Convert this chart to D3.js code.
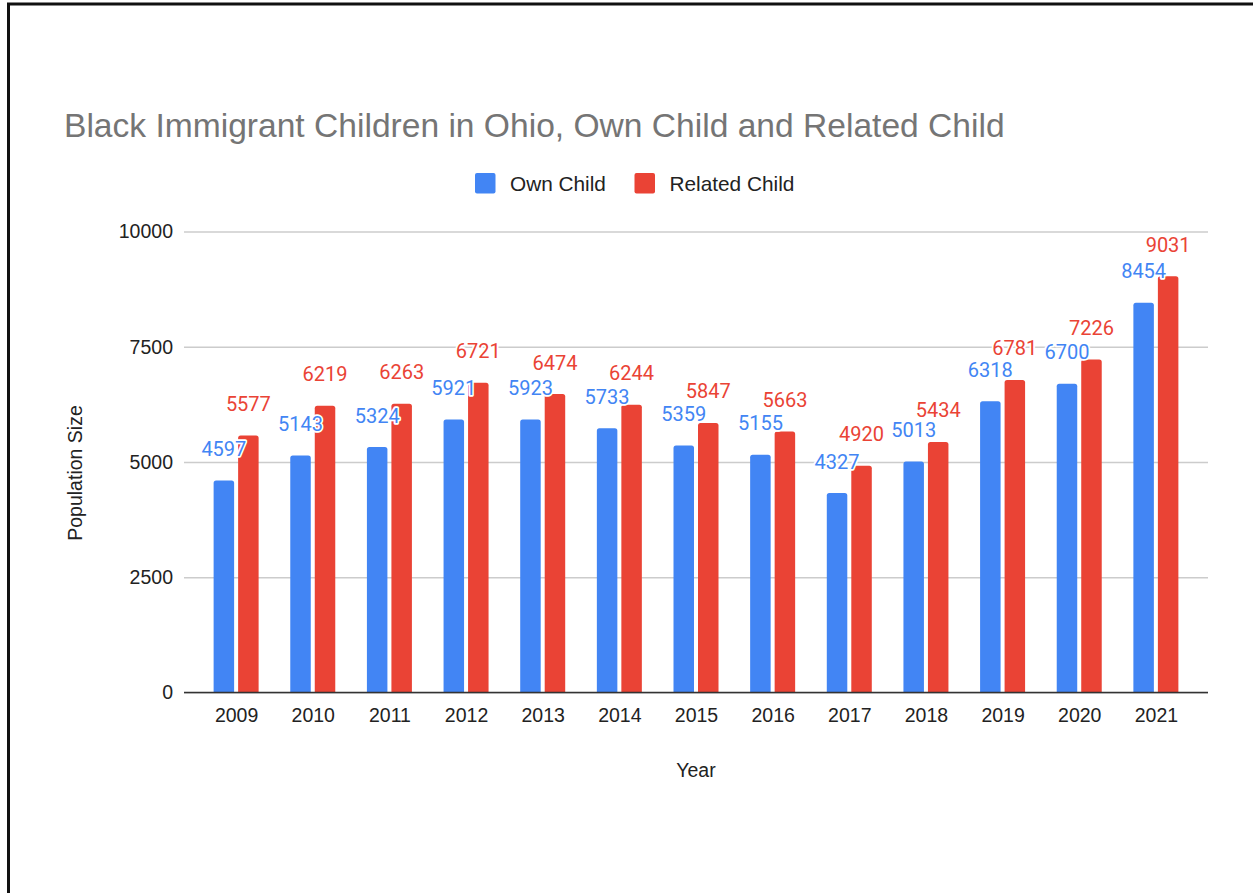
<!DOCTYPE html>
<html>
<head>
<meta charset="utf-8">
<script src="https://cdn.jsdelivr.net/npm/d3@7"></script>
<style>
  html, body { margin: 0; padding: 0; background: #fff; }
  svg { display: block; }
</style>
</head>
<body>
<svg id="chart" width="1253" height="893"></svg>
<script>
// Chart data
const years = ["2009", "2010", "2011", "2012", "2013", "2014", "2015", "2016", "2017", "2018", "2019", "2020", "2021"];
const ownChild = [4597, 5143, 5324, 5921, 5923, 5733, 5359, 5155, 4327, 5013, 6318, 6700, 8454];
const relatedChild = [5577, 6219, 6263, 6721, 6474, 6244, 5847, 5663, 4920, 5434, 6781, 7226, 9031];
const seriesNames = ["Own Child", "Related Child"];
const yTicks = [0, 2500, 5000, 7500, 10000];

const colors = ["#4285F4", "#EA4335"];
const seriesValues = [ownChild, relatedChild];

const svg = d3.select("#chart");
const W = 1253, H = 893;

// Frame around the chart card
svg.append("rect")
  .attr("x", 8.5).attr("y", 4)
  .attr("width", W + 20).attr("height", H + 20)
  .attr("fill", "#fff")
  .attr("stroke", "#111").attr("stroke-width", 3);

const plot = { left: 184, right: 1208, top: 231.5, bottom: 692.5 };

const x = d3.scalePoint().domain(years).range([plot.left, plot.right]).padding(0.68);
const y = d3.scaleLinear().domain([0, 10000]).range([plot.bottom, plot.top]);

const barW = 20.5, barGap = 4;
const groupW = barW * 2 + barGap;

// Title
svg.append("text")
  .attr("x", 64).attr("y", 137)
  .attr("font-family", "Liberation Sans, Arial, sans-serif")
  .attr("font-size", 33.6)
  .attr("fill", "#757575")
  .text("Black Immigrant Children in Ohio, Own Child and Related Child");

// Legend
const legendItems = [
  { name: seriesNames[0], color: colors[0], x: 475 },
  { name: seriesNames[1], color: colors[1], x: 634.5 }
];
const lg = svg.append("g");
legendItems.forEach(d => {
  lg.append("rect")
    .attr("x", d.x).attr("y", 173)
    .attr("width", 20.5).attr("height", 20.5)
    .attr("rx", 2)
    .attr("fill", d.color);
  lg.append("text")
    .attr("x", d.x + 35).attr("y", 190.5)
    .attr("font-family", "Liberation Sans, Arial, sans-serif")
    .attr("font-size", 20.8)
    .attr("fill", "#222")
    .text(d.name);
});

// Gridlines and y tick labels
const yAxis = d3.axisLeft(y).tickValues(yTicks).tickSize(-(plot.right - plot.left)).tickPadding(11).tickFormat(d3.format("d"));
const gy = svg.append("g")
  .attr("transform", `translate(${plot.left},0)`)
  .call(yAxis);
gy.select(".domain").remove();
gy.selectAll(".tick line").attr("stroke", "#cccccc").attr("stroke-width", 1.3);
gy.selectAll(".tick text")
  .attr("font-family", "Liberation Sans, Arial, sans-serif")
  .attr("font-size", 19.5)
  .attr("fill", "#222");

// Bars
const roundedTop = (x0, y0, w, h, r) => {
  r = Math.min(r, h, w / 2);
  return `M${x0},${y0 + h}V${y0 + r}Q${x0},${y0} ${x0 + r},${y0}H${x0 + w - r}Q${x0 + w},${y0} ${x0 + w},${y0 + r}V${y0 + h}Z`;
};

const bars = svg.append("g");
seriesValues.forEach((vals, si) => {
  bars.selectAll(null)
    .data(vals)
    .enter()
    .append("path")
    .attr("fill", colors[si])
    .attr("d", (v, i) => {
      const x0 = x(years[i]) - groupW / 2 + si * (barW + barGap);
      return roundedTop(x0, y(v), barW, y(0) - y(v), 2.5);
    });
});

// Baseline
svg.append("line")
  .attr("x1", plot.left).attr("x2", plot.right)
  .attr("y1", y(0)).attr("y2", y(0))
  .attr("stroke", "#333").attr("stroke-width", 1.5);

// X tick labels
const xAxis = d3.axisBottom(x).tickSize(0).tickPadding(29);
const gx = svg.append("g")
  .attr("transform", `translate(0,${plot.bottom})`)
  .call(xAxis);
gx.select(".domain").remove();
gx.selectAll(".tick text")
  .attr("font-family", "Liberation Sans, Arial, sans-serif")
  .attr("font-size", 19.5)
  .attr("fill", "#222")
  .attr("dy", 0);

// Value labels above bars
const labels = svg.append("g");
seriesValues.forEach((vals, si) => {
  labels.selectAll(null)
    .data(vals)
    .enter()
    .append("text")
    .attr("x", (v, i) => x(years[i]) - groupW / 2 + si * (barW + barGap) + barW / 2)
    .attr("y", v => y(v) - 24.5)
    .attr("text-anchor", "middle")
    .attr("font-family", "Roboto, sans-serif")
    .attr("font-size", 20)
    .attr("fill", colors[si])
    .attr("stroke", "#fff")
    .attr("stroke-width", 3.5)
    .attr("stroke-linejoin", "round")
    .attr("paint-order", "stroke")
    .text(v => v);
});

// Axis titles
svg.append("text")
  .attr("transform", `translate(82,${473}) rotate(-90)`)
  .attr("text-anchor", "middle")
  .attr("font-family", "Liberation Sans, Arial, sans-serif")
  .attr("font-size", 19.5)
  .attr("fill", "#222")
  .text("Population Size");

svg.append("text")
  .attr("x", 696).attr("y", 777)
  .attr("text-anchor", "middle")
  .attr("font-family", "Liberation Sans, Arial, sans-serif")
  .attr("font-size", 19.5)
  .attr("fill", "#222")
  .text("Year");
</script>
</body>
</html>
